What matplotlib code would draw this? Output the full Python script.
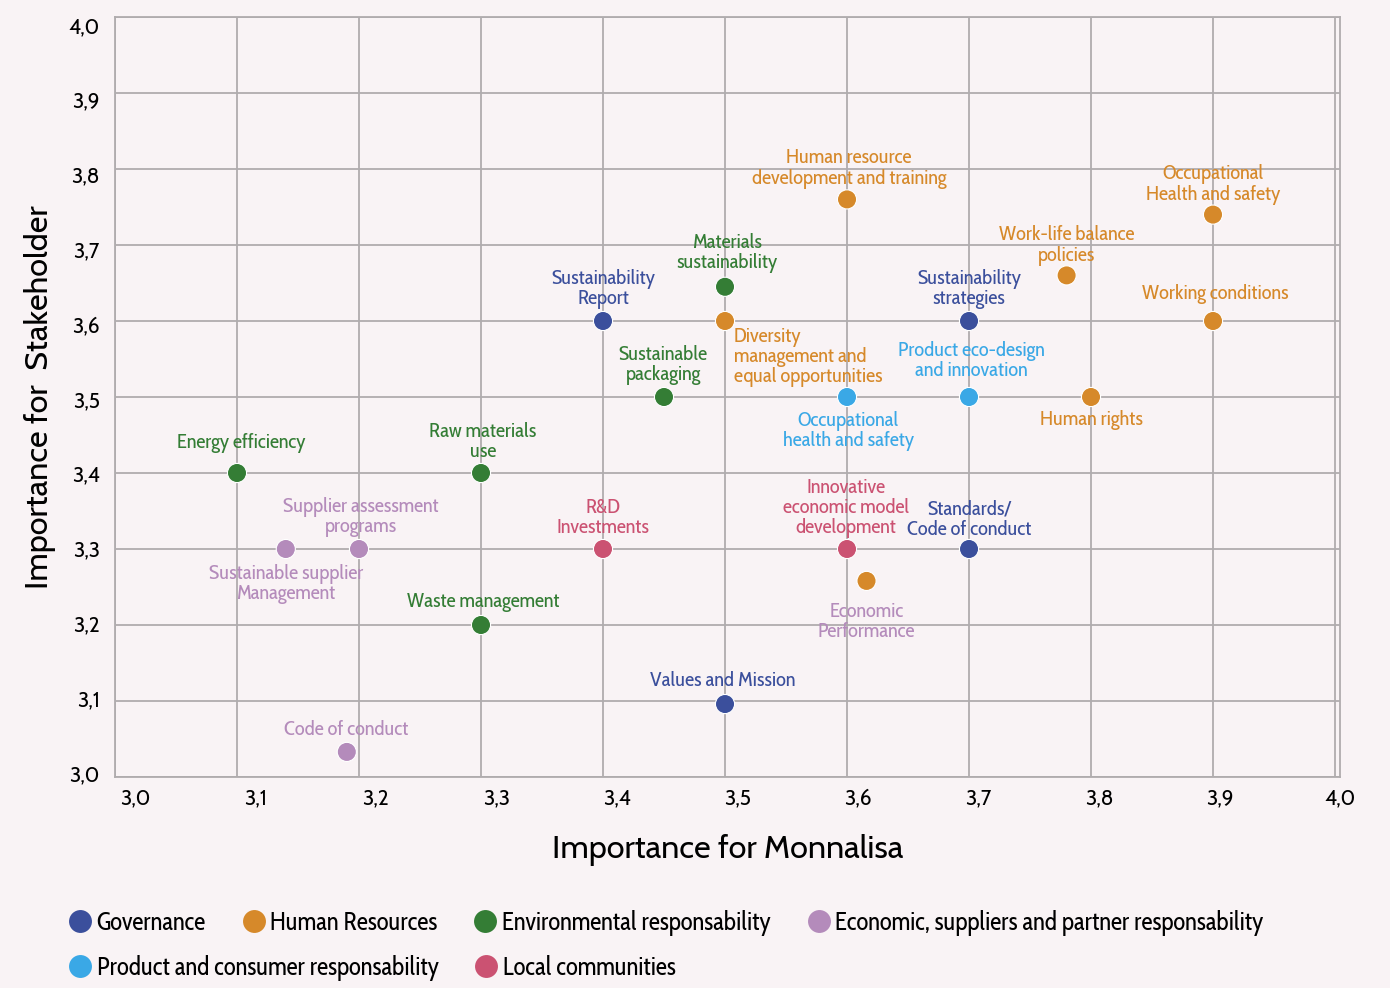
import matplotlib
matplotlib.use("Agg")
import matplotlib.pyplot as plt
from matplotlib.lines import Line2D
import numpy as np

BG = "#f9f3f5"
GRID = "#b0acae"
NARROW = ["Cabin Condensed", "Fira Sans Condensed", "IBM Plex Sans Condensed", "DejaVu Sans"]
HUMANIST = ["Cabin", "Lato", "DejaVu Sans"]

GROUPS = [
    "Governance",
    "Human Resources",
    "Environmental responsability",
    "Economic, suppliers and partner responsability",
    "Product and consumer responsability",
    "Local communities",
]
GROUP_COLORS = ["#3b4f9c", "#d6892a", "#347d35", "#b48bbb", "#3aa8e6", "#cb5272"]

# topics: name, importance for Monnalisa, importance for stakeholders, group index
names = [
    "Sustainability\nReport", "Sustainability\nstrategies", "Standards/\nCode of conduct",
    "Values and Mission",
    "Human resource\ndevelopment and training", "Occupational\nHealth and safety",
    "Work-life balance\npolicies", "Working conditions",
    "Diversity\nmanagement and\nequal opportunities", "Human rights",
    "Economic\nPerformance",
    "Materials\nsustainability", "Sustainable\npackaging", "Energy efficiency",
    "Raw materials\nuse", "Waste management",
    "Supplier assessment\nprograms", "Sustainable supplier\nManagement", "Code of conduct",
    "Product eco-design\nand innovation", "Occupational\nhealth and safety",
    "R&D\nInvestments", "Innovative\neconomic model\ndevelopment",
]
x_vals = [3.40, 3.70, 3.70, 3.50, 3.60, 3.90, 3.78, 3.90, 3.50, 3.80, 3.616,
          3.50, 3.45, 3.10, 3.30, 3.30, 3.20, 3.14, 3.19, 3.70, 3.60, 3.40, 3.60]
y_vals = [3.60, 3.60, 3.30, 3.096, 3.76, 3.74, 3.66, 3.60, 3.60, 3.50, 3.258,
          3.645, 3.50, 3.40, 3.40, 3.20, 3.30, 3.30, 3.033, 3.50, 3.50, 3.30, 3.30]
point_group = [0, 0, 0, 0, 1, 1, 1, 1, 1, 1, 1,
               2, 2, 2, 2, 2, 3, 3, 3, 4, 4, 5, 5]
label_group = [0, 0, 0, 0, 1, 1, 1, 1, 1, 1, 3,
               2, 2, 2, 2, 2, 3, 3, 3, 4, 4, 5, 5]

# label offsets in pixels (dx, dy) from the marker, plus horizontal alignment
label_offsets = [(0, 32), (0, 32), (0, 29), (-2, 23), (2, 31), (0, 30), (0, 30),
                 (2, 27), (9, -36), (0, -23), (0, -41), (2, 34), (-1, 32), (4, 30),
                 (2, 31), (2, 23), (2, 32), (0, -35), (-1, 22), (2, 36), (1, -34),
                 (0, 31), (-1, 41)]
label_ha = ["center"] * len(names)
label_ha[8] = "left"

tick_values = np.round(np.arange(3.0, 4.01, 0.1), 1)
tick_labels = [f"{v:.1f}".replace(".", ",") for v in tick_values]

fig = plt.figure(figsize=(13.9, 9.88), dpi=100, facecolor=BG)
ax = fig.add_axes([115 / 1390, 1 - 777 / 988, 1225 / 1390, 760 / 988], facecolor=BG)
ax.set_xlim(3.0, 4.0)
ax.set_ylim(3.0, 4.0)

for v in tick_values:
    ax.axvline(v, color=GRID, lw=1.3, zorder=0)
    ax.axhline(v, color=GRID, lw=1.3, zorder=0)
for s in ax.spines.values():
    s.set_color(GRID)
    s.set_linewidth(1.3)

# tick labels sit on a slightly tighter spacing than the grid
ax.set_xticks(np.linspace(3.0 + 20 / 1225, 3.0 + 1230 / 1225, 11))
ax.set_xticklabels(tick_labels, fontsize=15, family=HUMANIST)
ax.set_yticks(np.linspace(3.0 + 4 / 760, 3.0 + 752 / 760, 11))
ax.set_yticklabels(tick_labels, fontsize=15, family=HUMANIST)
ax.tick_params(axis="y", length=0, pad=11)
ax.tick_params(axis="x", length=0, pad=8)

ax.set_xlabel("Importance for Monnalisa", fontsize=23.3, family=HUMANIST, labelpad=18)
ax.set_ylabel("Importance for  Stakeholder", fontsize=23.3, family=HUMANIST, labelpad=9)

colors = [GROUP_COLORS[g] for g in point_group]
ax.scatter(x_vals, y_vals, s=190, c=colors, edgecolors="white", linewidths=0.8, zorder=3)

for name, x, y, g, (dx, dy), ha in zip(names, x_vals, y_vals, label_group, label_offsets, label_ha):
    ax.annotate(name, (x, y), xytext=(dx, dy), textcoords="offset pixels",
                ha=ha, va="center", multialignment=ha, fontsize=14.8, family=NARROW,
                color=GROUP_COLORS[g], linespacing=1.03, zorder=4)


def group_handle(i):
    return Line2D([], [], ls="none", marker="o", markersize=16.5,
                  markerfacecolor=GROUP_COLORS[i], markeredgecolor="none", label=GROUPS[i])


legend_style = dict(frameon=False, handletextpad=0.2, handlelength=0.95, borderpad=0,
                    borderaxespad=0, columnspacing=1.45, prop={"family": NARROW, "size": 17.9})
fig.legend(handles=[group_handle(i) for i in range(4)], ncol=4, loc="center left",
           bbox_to_anchor=(68 / 1390, 1 - 923 / 988), **legend_style)
fig.legend(handles=[group_handle(i) for i in (4, 5)], ncol=2, loc="center left",
           bbox_to_anchor=(68 / 1390, 1 - 968 / 988), **legend_style)

fig.savefig("out.png", dpi=100, facecolor=BG)
